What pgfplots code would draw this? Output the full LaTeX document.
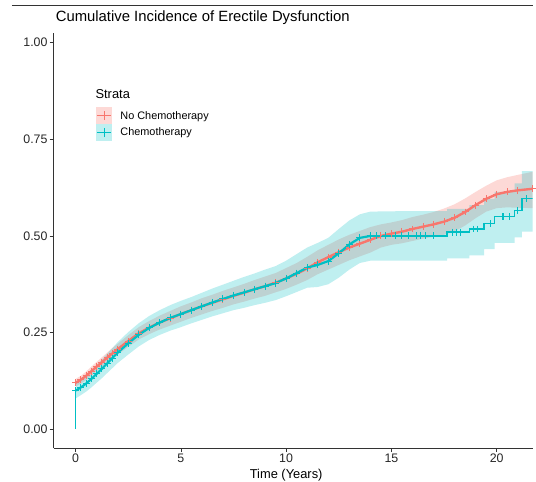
\documentclass[border=0pt]{standalone}
\usepackage{pgfplots}
\pgfplotsset{compat=1.18}
\usepackage{pgfplotstable}
\usepgfplotslibrary{fillbetween}
\usepackage{fontspec}
\setmainfont{Liberation Sans}
\definecolor{cRed}{HTML}{F8766D}
\definecolor{cCyan}{HTML}{00BFC4}
\definecolor{axgray}{HTML}{333333}

\pgfplotstableread{
t est lo hi
0.0 0.120 0.110 0.130
0.25 0.128 0.118 0.138
0.5 0.138 0.127 0.149
0.75 0.150 0.138 0.162
1.0 0.162 0.150 0.174
1.25 0.173 0.160 0.186
1.5 0.185 0.172 0.198
1.75 0.196 0.182 0.210
2.0 0.207 0.193 0.221
2.5 0.228 0.213 0.243
3.0 0.248 0.232 0.264
3.5 0.263 0.246 0.280
4.0 0.276 0.258 0.294
4.5 0.287 0.268 0.306
5.0 0.298 0.278 0.318
5.5 0.308 0.288 0.328
6.0 0.318 0.297 0.339
6.5 0.327 0.306 0.348
7.0 0.336 0.314 0.358
7.5 0.345 0.323 0.367
8.0 0.353 0.330 0.376
8.5 0.362 0.338 0.386
9.0 0.370 0.345 0.395
9.5 0.379 0.354 0.404
10.0 0.390 0.363 0.417
10.5 0.402 0.374 0.430
11.0 0.416 0.386 0.446
11.5 0.432 0.401 0.463
12.0 0.445 0.413 0.477
12.5 0.458 0.425 0.491
13.0 0.470 0.437 0.503
13.5 0.480 0.447 0.513
14.0 0.490 0.457 0.523
14.5 0.500 0.470 0.530
15.0 0.506 0.477 0.535
15.5 0.511 0.481 0.541
16.0 0.518 0.487 0.549
16.5 0.524 0.493 0.555
17.0 0.530 0.498 0.562
17.5 0.537 0.503 0.571
18.0 0.547 0.512 0.582
18.5 0.562 0.527 0.597
19.0 0.580 0.546 0.614
19.5 0.596 0.563 0.630
20.0 0.608 0.572 0.644
20.5 0.614 0.574 0.652
21.0 0.618 0.573 0.658
21.7 0.622 0.572 0.666
}\redtab

\pgfplotstableread{
t est lo hi
0.02 0.100 0.080 0.120
0.25 0.108 0.088 0.128
0.5 0.118 0.097 0.139
0.75 0.130 0.108 0.152
1.0 0.143 0.120 0.166
1.25 0.156 0.132 0.180
1.5 0.170 0.145 0.195
1.75 0.184 0.158 0.210
2.0 0.198 0.171 0.225
2.5 0.222 0.193 0.251
3.0 0.244 0.214 0.274
3.5 0.262 0.231 0.293
4.0 0.276 0.244 0.308
4.5 0.288 0.255 0.321
5.0 0.298 0.264 0.332
5.5 0.308 0.274 0.342
6.0 0.318 0.283 0.353
6.5 0.328 0.292 0.364
7.0 0.337 0.300 0.374
7.5 0.346 0.308 0.384
8.0 0.354 0.314 0.394
8.5 0.362 0.321 0.403
9.0 0.370 0.327 0.413
9.5 0.378 0.334 0.422
10.0 0.390 0.344 0.436
10.5 0.404 0.355 0.453
11.0 0.418 0.366 0.470
11.5 0.425 0.368 0.482
12.0 0.435 0.375 0.495
12.5 0.455 0.392 0.518
13.0 0.478 0.413 0.540
13.5 0.495 0.430 0.556
14.0 0.500 0.436 0.563
15.3 0.500 0.436 0.564
17.64 0.500 0.436 0.564
17.64 0.510 0.442 0.570
18.7 0.510 0.442 0.570
18.7 0.518 0.450 0.580
19.4 0.518 0.450 0.580
19.4 0.532 0.466 0.596
19.9 0.532 0.466 0.596
19.9 0.550 0.482 0.614
20.85 0.550 0.482 0.614
20.85 0.566 0.496 0.636
21.2 0.566 0.496 0.636
21.2 0.596 0.511 0.668
21.7 0.596 0.511 0.668
}\cyantab

\pgfplotstableread{
t est
14.3 0.500
14.7 0.500
15.2 0.500
15.5 0.500
15.8 0.500
16.2 0.500
16.4 0.500
16.6 0.500
17.0 0.500
17.9 0.510
18.1 0.510
18.3 0.510
18.9 0.518
19.1 0.518
19.7 0.532
20.3 0.550
20.6 0.550
21.0 0.566
21.4 0.596
}\cyancens

\begin{document}
\begin{tikzpicture}[x=1bp,y=1bp]
\path (0,0) rectangle (536,485);
\draw[axgray, line width=0.8bp] (12,480) -- (536,480);
\node[anchor=west, inner sep=0pt, font=\fontsize{15}{18}\selectfont] at (56,467) {Cumulative Incidence of Erectile Dysfunction};
\begin{axis}[
  at={(54bp,34bp)}, anchor=south west,
  scale only axis, width=482bp, height=418bp,
  xmin=-1.038, xmax=21.70, ymin=-0.0488, ymax=1.0257,
  axis x line*=bottom, axis y line*=left,
  axis line style={axgray, line width=0.8bp},
  xtick={0,5,10,15,20}, ytick={0,0.25,0.5,0.75,1},
  tick align=outside, major tick length=4bp,
  tick style={axgray, line width=0.6bp},
  /pgf/number format/assume math mode=true,
  ticklabel style={font=\fontsize{12.5}{14}\selectfont, text=black!85},
  yticklabel style={/pgf/number format/fixed, /pgf/number format/fixed zerofill, /pgf/number format/precision=2, inner sep=0pt, xshift=-2bp},
  xticklabel style={inner sep=0pt, yshift=-2bp},
  xlabel={Time (Years)},
  xlabel style={font=\fontsize{13}{15}\selectfont, at={(axis description cs:0.4855,0)}, anchor=center, yshift=-27bp, inner sep=0pt},
]
\addplot[name path=rlo, draw=none, forget plot] table[x=t,y=lo]{\redtab};
\addplot[name path=rhi, draw=none, forget plot] table[x=t,y=hi]{\redtab};
\addplot[fill=cRed, fill opacity=0.28, draw=none, forget plot] fill between[of=rlo and rhi];
\addplot[name path=clo, draw=none, forget plot] table[x=t,y=lo]{\cyantab};
\addplot[name path=chi, draw=none, forget plot] table[x=t,y=hi]{\cyantab};
\addplot[fill=cCyan, fill opacity=0.25, draw=none, forget plot] fill between[of=clo and chi];
\addplot[cRed, line width=2.4bp, mark=+, mark size=3.5bp, mark options={line width=1bp}] table[x=t,y=est]{\redtab};
\addplot[cCyan, line width=1.4bp] coordinates {(0,0) (0,0.10)};
\addplot[cCyan, line width=2.2bp, mark=+, mark size=3.5bp, mark options={line width=1bp}, restrict x to domain=0:14] table[x=t,y=est]{\cyantab};
\addplot[cCyan, line width=1.3bp, restrict x to domain=14:22] table[x=t,y=est]{\cyantab};
\addplot[cCyan, only marks, mark=+, mark size=3.5bp, mark options={line width=1.1bp}] table[x=t,y=est]{\cyancens};
\end{axis}
\node[anchor=west, inner sep=0pt, font=\fontsize{13}{15}\selectfont] at (96,390) {Strata};
\fill[cRed, opacity=0.28] (97,360) rectangle (113,377);
\draw[cRed, line width=1.4bp] (98,368.5) -- (112,368.5) (105,364) -- (105,373);
\fill[cCyan, opacity=0.25] (97,343) rectangle (113,360);
\draw[cCyan, line width=1.4bp] (98,351.5) -- (112,351.5) (105,347) -- (105,356);
\node[anchor=west, inner sep=0pt, font=\fontsize{11}{13}\selectfont] at (121,368) {No Chemotherapy};
\node[anchor=west, inner sep=0pt, font=\fontsize{11}{13}\selectfont] at (121,351) {Chemotherapy};
\end{tikzpicture}
\end{document}
